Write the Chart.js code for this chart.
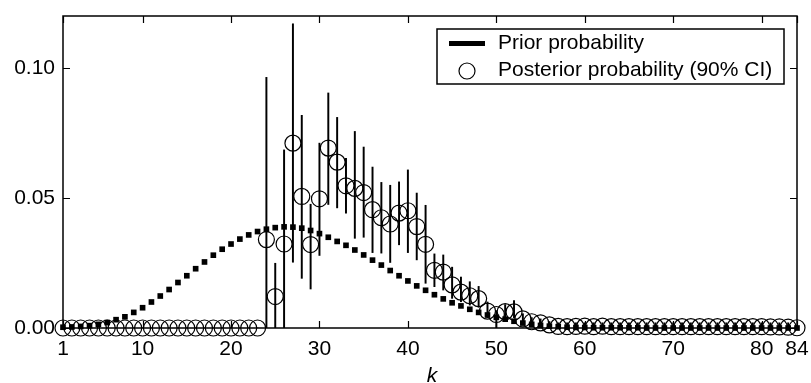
<!DOCTYPE html>
<html>
<head>
<meta charset="utf-8">
<script src="https://cdn.jsdelivr.net/npm/chart.js@4/dist/chart.umd.min.js"></script>
<style>
  html, body { margin: 0; padding: 0; background: #fff; }
  canvas { display: block; }
</style>
</head>
<body>
<canvas id="c" width="811" height="383"></canvas>
<script>
// ---- data ----
const K = [1,2,3,4,5,6,7,8,9,10,11,12,13,14,15,16,17,18,19,20,21,22,23,24,25,26,27,28,29,30,
  31,32,33,34,35,36,37,38,39,40,41,42,43,44,45,46,47,48,49,50,51,52,53,54,55,56,57,58,59,60,
  61,62,63,64,65,66,67,68,69,70,71,72,73,74,75,76,77,78,79,80,81,82,83,84];

const prior = [
  0.0003,0.0004,0.0006,0.0009,0.0014,0.0021,0.0032,0.0043,0.0060,0.0078,
  0.0100,0.0123,0.0148,0.0175,0.0201,0.0228,0.0254,0.0280,0.0303,0.0323,
  0.0342,0.0358,0.0371,0.0380,0.0386,0.0389,0.0388,0.0384,0.0375,0.0363,
  0.0349,0.0333,0.0318,0.0300,0.0281,0.0261,0.0242,0.0221,0.0201,0.0181,
  0.0162,0.0145,0.0128,0.0112,0.0097,0.0085,0.0072,0.0060,0.0050,0.0041,
  0.0034,0.0026,0.0019,0.0014,0.0010,0.0007,0.0005,0.0003,0.0002,0.0002,
  0.0001,0.0001,0.0001,0.0001,0.0001,0.0001,0,0,0,0,
  0,0,0,0,0,0,0,0,0,0,
  0,0,0,0];

const posterior = [
  0,0,0,0,0,0,0,0,0,0,
  0,0,0,0,0,0,0,0,0,0,
  0,0,0,0.0340,0.0121,0.0323,0.0711,0.0506,0.0321,0.0497,
  0.0692,0.0638,0.0547,0.0537,0.0521,0.0455,0.0424,0.0400,0.0442,0.0451,
  0.0390,0.0322,0.0222,0.0215,0.0166,0.0138,0.0124,0.0113,0.0065,0.0052,
  0.0063,0.0062,0.0035,0.0024,0.0020,0.0012,0.0006,0.0005,0.0006,0.0007,
  0.0005,0.0007,0.0005,0.0005,0.0005,0.0005,0.0005,0.0005,0.0005,0.0005,
  0.0005,0.0005,0.0005,0.0005,0.0005,0.0005,0.0005,0.0005,0.0005,0.0005,
  0.0004,0.0004,0.0003,0.0001];

const ciLow = [
  0,0,0,0,0,0,0,0,0,0,
  0,0,0,0,0,0,0,0,0,0,
  0,0,0,0,0,0,0.0253,0.0191,0.0150,0.0279,
  0.0475,0.0462,0.0442,0.0345,0.0349,0.0290,0.0288,0.0252,0.0320,0.0290,
  0.0262,0.0172,0.0159,0.0146,0.0114,0.0101,0.0088,0.0080,0.0040,0,
  0.0035,0.0040,0.0015,0.0010,0.0008,0.0003,0.0002,0.0001,0.0001,0.0001,
  0.0001,0.0001,0.0001,0.0001,0.0001,0.0001,0.0001,0.0001,0.0001,0.0001,
  0.0001,0.0001,0.0001,0.0001,0.0001,0.0001,0.0001,0.0001,0.0001,0.0001,
  0.0001,0.0001,0.0001,0];

const ciHigh = [
  0,0,0,0,0,0,0,0,0,0,
  0,0,0,0,0,0,0,0,0,0,
  0,0,0,0.0964,0.0249,0.0685,0.1170,0.0818,0.0476,0.0711,
  0.0904,0.0810,0.0653,0.0756,0.0696,0.0619,0.0560,0.0549,0.0562,0.0608,
  0.0519,0.0472,0.0285,0.0281,0.0234,0.0196,0.0178,0.0160,0.0100,0.0067,
  0.0090,0.0105,0.0055,0.0040,0.0035,0.0025,0.0020,0.0020,0.0020,0.0020,
  0.0020,0.0020,0.0020,0.0020,0.0020,0.0020,0.0020,0.0020,0.0020,0.0020,
  0.0020,0.0020,0.0020,0.0020,0.0020,0.0020,0.0020,0.0020,0.0020,0.0020,
  0.0020,0.0020,0.0020,0.0010];

const xTickValues = [1,10,20,30,40,50,60,70,80,84];
const yTickValues = [0, 0.05, 0.10];
const yTickLabels = ['0.00','0.05','0.10'];
const legendLabels = ['Prior probability','Posterior probability (90% CI)'];
const xTitle = 'k';

// ---- chart ----
const FONT = "'Liberation Sans', Arial, Helvetica, sans-serif";
const FS = 21;
Chart.defaults.font.family = FONT;
Chart.defaults.font.size = FS;
Chart.defaults.color = '#000';

function zeroPadding(s) {
  s.paddingLeft = 0; s.paddingRight = 0; s.paddingTop = 0; s.paddingBottom = 0;
}

const framePlugin = {
  id: 'frame',
  afterDraw(chart) {
    const { ctx, chartArea: a, scales: { x, y } } = chart;
    ctx.save();
    ctx.strokeStyle = '#000';
    ctx.lineWidth = 1.5;
    ctx.strokeRect(a.left, a.top, a.right - a.left, a.bottom - a.top);
    ctx.lineWidth = 1.2;
    ctx.beginPath();
    for (const v of xTickValues) {
      const px = Math.round(x.getPixelForValue(v)) + 0.5;
      ctx.moveTo(px, a.bottom); ctx.lineTo(px, a.bottom - 7);
      ctx.moveTo(px, a.top); ctx.lineTo(px, a.top + 7);
    }
    for (const v of yTickValues) {
      const py = Math.round(y.getPixelForValue(v)) + 0.5;
      ctx.moveTo(a.left, py); ctx.lineTo(a.left + 7, py);
      ctx.moveTo(a.right, py); ctx.lineTo(a.right - 7, py);
    }
    ctx.stroke();

    // axis title
    ctx.font = 'italic ' + FS + 'px ' + FONT;
    ctx.fillStyle = '#000';
    ctx.textAlign = 'center';
    ctx.textBaseline = 'middle';
    ctx.fillText(xTitle, (a.left + a.right) / 2 + 2, 376);

    // legend
    const bx = a.right - 360, by = a.top + 13, bw = 347, bh = 55;
    ctx.fillStyle = '#fff';
    ctx.fillRect(bx, by, bw, bh);
    ctx.lineWidth = 1.5;
    ctx.strokeStyle = '#000';
    ctx.strokeRect(bx, by, bw, bh);
    ctx.lineWidth = 5;
    ctx.beginPath();
    ctx.moveTo(bx + 12, by + 14.5); ctx.lineTo(bx + 48, by + 14.5);
    ctx.stroke();
    ctx.lineWidth = 1.2;
    ctx.beginPath();
    ctx.arc(bx + 30, by + 42, 8, 0, Math.PI * 2);
    ctx.stroke();
    ctx.font = FS + 'px ' + FONT;
    ctx.fillStyle = '#000';
    ctx.textAlign = 'left';
    ctx.fillText(legendLabels[0], bx + 61, by + 14.5);
    ctx.fillText(legendLabels[1], bx + 61, by + 41.5);
    ctx.restore();
  }
};

new Chart(document.getElementById('c'), {
  data: {
    datasets: [
      {
        type: 'scatter',
        label: legendLabels[0],
        data: K.map((k, i) => ({ x: k, y: prior[i] })),
        pointStyle: 'rect',
        pointRadius: 4,
        pointBackgroundColor: '#000',
        pointBorderWidth: 0,
        showLine: false,
        order: 0,
        clip: false
      },
      {
        type: 'scatter',
        label: legendLabels[1],
        data: K.map((k, i) => ({ x: k, y: posterior[i] })),
        pointStyle: 'circle',
        pointRadius: 8,
        pointBackgroundColor: 'rgba(0,0,0,0)',
        pointBorderColor: '#000',
        pointBorderWidth: 1.2,
        showLine: false,
        order: 1,
        clip: false
      },
      {
        type: 'bar',
        label: '90% CI',
        data: K.map((k, i) => ({ x: k, y: [ciLow[i], ciHigh[i]] })),
        backgroundColor: '#000',
        borderWidth: 0,
        barThickness: 1.3,
        grouped: false,
        order: 2
      }
    ]
  },
  options: {
    responsive: false,
    animation: false,
    events: [],
    layout: { autoPadding: false, padding: { top: 16, right: 14, left: 0, bottom: 0 } },
    plugins: { legend: { display: false }, tooltip: { enabled: false } },
    scales: {
      x: {
        type: 'linear',
        min: 1, max: 84,
        offset: false,
        grid: { display: false, drawTicks: false },
        border: { display: false },
        ticks: { padding: 9, maxRotation: 0, autoSkip: false, callback: v => String(v) },
        afterBuildTicks: s => { s.ticks = xTickValues.map(v => ({ value: v })); },
        afterFit: s => { s.height = 55; zeroPadding(s); }
      },
      y: {
        type: 'linear',
        min: 0, max: 0.12,
        grid: { display: false, drawTicks: false },
        border: { display: false },
        ticks: {
          padding: 8,
          callback: (v) => { const i = yTickValues.indexOf(v); return i >= 0 ? yTickLabels[i] : ''; }
        },
        afterBuildTicks: s => { s.ticks = yTickValues.map(v => ({ value: v })); },
        afterFit: s => { s.width = 63; zeroPadding(s); }
      }
    }
  },
  plugins: [framePlugin]
});
</script>
</body>
</html>
